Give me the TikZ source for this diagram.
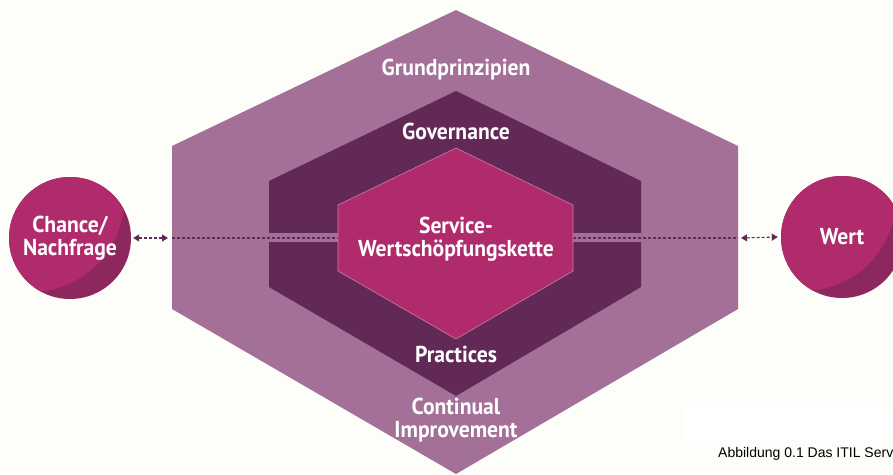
\documentclass[tikz,border=0pt]{standalone}
\usepackage{fontspec}
\setmainfont{PT Sans}[FakeStretch=0.94]
\newfontfamily\capfont{Liberation Sans}
\usetikzlibrary{arrows.meta,calc}
\definecolor{paper}{RGB}{253,253,250}
\definecolor{hexout}{RGB}{164,112,151}
\definecolor{hexdark}{RGB}{98,41,86}
\definecolor{hexmag}{RGB}{176,43,108}
\definecolor{hexrim}{RGB}{205,125,165}
\definecolor{ballshade}{RGB}{141,40,95}

\begin{document}
\begin{tikzpicture}[x=1pt,y=-1pt,
		lbl/.style={text=white,font=\bfseries\fontsize{23}{23.5}\selectfont,align=center,inner sep=0pt},
		ball/.style={circle,minimum size=122pt,inner sep=0pt,fill=ballshade,
			path picture={\fill[hexmag] ($(path picture bounding box.center)+(-39pt,39pt)$) circle (93pt);}},
		link/.style={draw=hexdark,line width=1.1pt,dash pattern=on 3pt off 2pt},
		tips/.style={link,{Triangle[length=6pt,width=7pt]}-{Triangle[length=6pt,width=7pt]}}]
	\useasboundingbox (0,0) rectangle (893,474);
	\fill[paper] (0,0) rectangle (893,474);
	\fill[white] (683,408) rectangle (893,440);
	\fill[hexout] (456,10) -- (738,146) -- (738,309) -- (456,474) -- (172,309) -- (172,146) -- cycle;
	\fill[hexdark] (456,91) -- (641,181) -- (641,287) -- (456,396) -- (269,287) -- (269,181) -- cycle;
	\fill[hexout] (269,233) rectangle (641,242);
	\coordinate (outL) at (172,238);
	\coordinate (outR) at (738,238);
	\coordinate (svcL) at (338,238);
	\coordinate (svcR) at (573,238);
	\draw[link] (outL) -- (svcL);
	\draw[link] (svcR) -- (outR);
	\filldraw[fill=hexmag,draw=hexrim,line width=0.6pt] (456,148) -- (573,205) -- (573,271) -- (456,339) -- (338,271) -- (338,205) -- cycle;

	\node[lbl] (gp) at (456,70) {Grundprinzipien};
	\node[lbl] (gov) at (456,131) {Governance};
	\node[lbl] (svc) at (456,239) {Service-\\Wertschöpfungskette};
	\node[lbl] (prac) at (456,354) {Practices};
	\node[lbl] (ci) at (456,420) {Continual\\Improvement};

	\node[ball,lbl] (chance) at (70,238) {Chance/\\Nachfrage};
	\node[ball,lbl] (wert) at (842,237) {Wert};
	\draw[tips] ([xshift=2pt]chance.east) -- ([xshift=-4pt]outL);
	\draw[tips] ([xshift=3pt]outR) -- ([xshift=-3pt]wert.west);

	\node[anchor=base west,inner sep=0pt,font=\capfont\fontsize{14}{15}\selectfont] (cap) at (718,457) {Abbildung 0.1 Das ITIL Serv};
\end{tikzpicture}
\end{document}
